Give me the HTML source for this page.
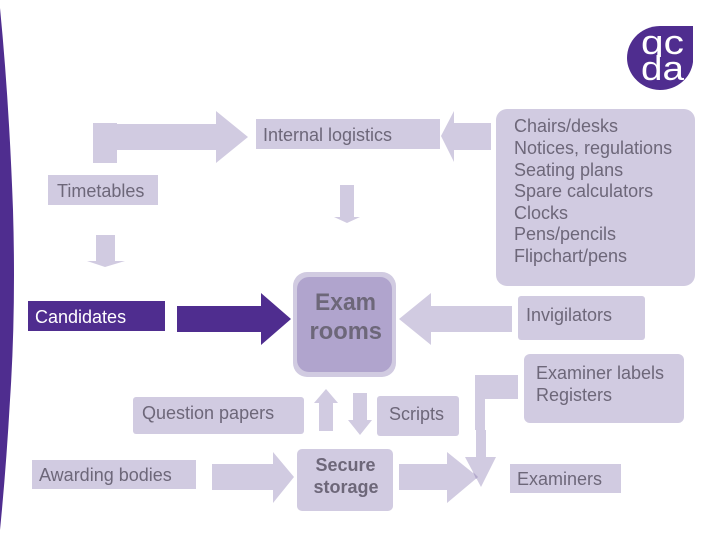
<!DOCTYPE html>
<html>
<head>
<meta charset="utf-8">
<style>
html,body{margin:0;padding:0;background:#fff;width:720px;height:540px;overflow:hidden}
svg{display:block}
text{font-family:"Liberation Sans",sans-serif;font-size:18px;fill:#6d6779}
</style>
</head>
<body>
<svg width="720" height="540" viewBox="0 0 720 540" xmlns="http://www.w3.org/2000/svg">
<defs>
<clipPath id="qclip"><rect x="630" y="26" width="63" height="31"/></clipPath>
</defs>
<rect width="720" height="540" fill="#fff"/>
<path d="M0 8 Q9 100 13 210 Q16 310 10 400 Q6 470 0 530 Z" fill="#4f2d8f"/>

<path d="M660 26 L693 26 L693 62 C691 78 677 90 660 90 C642 90 627 75 627 58 C627 40 642 26 660 26 Z" fill="#4f2d8f"/>
<g clip-path="url(#qclip)">
<text x="641" y="54" style="font-size:34px;fill:#fff" textLength="43" lengthAdjust="spacingAndGlyphs">qc</text>
</g>
<text x="641" y="80" style="font-size:34px;fill:#fff" textLength="43" lengthAdjust="spacingAndGlyphs">da</text>

<g fill="#d1cbe1">
<rect x="93" y="123" width="24" height="40"/>
<polygon points="117,124 216,124 216,111 248,137 216,163 216,150 117,150"/>
<rect x="256" y="119" width="184" height="30"/>
<polygon points="491,123 454,123 454,111 441,136 454,162 454,150 491,150"/>
<rect x="496" y="109" width="199" height="177" rx="11"/>
<rect x="48" y="175" width="110" height="30"/>
<polygon points="340,185 354,185 354,217 360,217 347,223 334,217 340,217"/>
<polygon points="96,235 115,235 115,261 125,261 105,267 87,261 96,261"/>
<polygon points="512,306 431,306 431,293 399,319 431,345 431,332 512,332"/>
<rect x="518" y="296" width="127" height="44" rx="3"/>
<rect x="524" y="354" width="160" height="69" rx="6"/>
<polygon points="518,375 475,375 475,430 476,430 476,457 465,457 481,487 496,457 486,457 486,430 485,430 485,399 518,399"/>
<rect x="377" y="396" width="82" height="40" rx="3"/>
<polygon points="353,393 367,393 367,420 372,420 360,435 348,420 353,420"/>
<polygon points="319,431 333,431 333,403 338,403 326,389 314,403 319,403"/>
<rect x="133" y="397" width="171" height="37" rx="3"/>
<rect x="32" y="460" width="164" height="29"/>
<polygon points="212,464 273,464 273,452 294,477 273,503 273,490 212,490"/>
<rect x="297" y="449" width="96" height="62" rx="5"/>
<polygon points="399,464 447,464 447,452 478,477 447,503 447,490 399,490"/>
<rect x="510" y="464" width="111" height="29"/>
<rect x="293" y="272" width="103" height="105" rx="14"/>
</g>
<polygon points="473,472 478,477 476,479" fill="#b3a9cc"/>
<rect x="297" y="277" width="95" height="95" rx="12" fill="#b0a4cd"/>

<rect x="28" y="301" width="137" height="30" fill="#4f2d8f"/>
<polygon points="177,306 261,306 261,293 291,319 261,345 261,332 177,332" fill="#4f2d8f"/>

<text x="263" y="141">Internal logistics</text>
<text x="57" y="197">Timetables</text>
<text x="35" y="323" style="fill:#fff">Candidates</text>
<text x="514" y="132">Chairs/desks</text>
<text x="514" y="154">Notices, regulations</text>
<text x="514" y="176">Seating plans</text>
<text x="514" y="197">Spare calculators</text>
<text x="514" y="219">Clocks</text>
<text x="514" y="240">Pens/pencils</text>
<text x="514" y="262">Flipchart/pens</text>
<text x="315" y="310" style="font-size:24px;font-weight:bold" textLength="61" lengthAdjust="spacingAndGlyphs">Exam</text>
<text x="309.5" y="339" style="font-size:24px;font-weight:bold" textLength="72.5" lengthAdjust="spacingAndGlyphs">rooms</text>
<text x="526" y="321">Invigilators</text>
<text x="536" y="379">Examiner labels</text>
<text x="536" y="401">Registers</text>
<text x="389" y="420">Scripts</text>
<text x="142" y="419">Question papers</text>
<text x="39" y="481">Awarding bodies</text>
<text x="345.5" y="471" text-anchor="middle" style="font-weight:bold">Secure</text>
<text x="346" y="493" text-anchor="middle" style="font-weight:bold">storage</text>
<text x="517" y="485">Examiners</text>
</svg>
</body>
</html>
